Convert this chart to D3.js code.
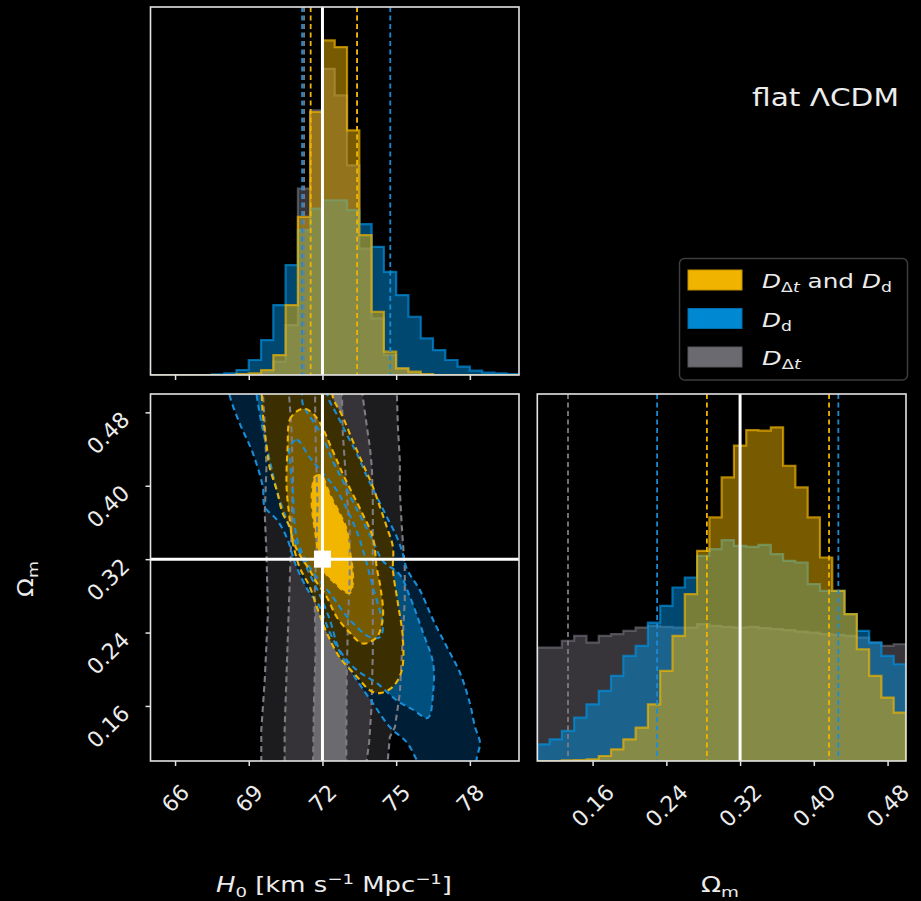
<!DOCTYPE html>
<html>
<head>
<meta charset="utf-8">
<script src="https://cdn.jsdelivr.net/npm/d3@7"></script>
<style>
  body { margin: 0; background: #000; }
  text { font-family: "DejaVu Sans", sans-serif; fill: #ececec; white-space: pre; }
</style>
</head>
<body>
<div id="chart"></div>
<script>
// ---- data ----
// 1D histograms: 30 bins each
const h0Start = 65, h0Step = 0.5;
const omStart = 0.1, omStep = 0.4 / 30;

const h0Joint = [0,0,0,0,0,0,0,0.3,0.5,1.5,6,21,47.5,79,100.5,98.5,73.5,42,19,7,2,1,0.3,0,0,0,0,0,0,0];
const h0Dd = [0,0,0,0,0,0.2,0.5,1.5,4.5,10.5,21,33,43.5,50,52.5,52.5,49.5,45.3,38.5,31,24,17.5,11,7.5,4.5,2.5,1.3,0.7,0.5,0.3];
const h0Ddt = [0,0,0,0,0,0,0,0,0,1,4,15,56,79.5,92,84,63,38,17,6,2,0.5,0,0,0,0,0,0,0,0];

const omJoint = [0,0,0.2,0.3,0.5,1.5,3.5,6.5,10,17,27,37.5,50,63,73,85,94.5,99.2,99,100,88.5,82,73,61,51,44,33.5,25.5,19,14.5];
const omDd = [5,6.5,9,13,17,21,25.5,31.5,34.5,41.5,46.5,52,55,61.5,63.5,66.2,64.5,64.2,64.8,62,60,59.5,53,51,51,44,39,35.5,31.5,29];
const omDdt = [34,34,36,37.5,35.5,37.5,38,39,40,40.5,40.2,40,40,41,40.5,40.2,40,40.2,39.8,39.5,39.2,38.8,38.5,38,37.8,37.5,37,35.5,34.5,35];

// quantile lines
const h0QJoint = [71.52, 73.41], h0QDd = [71.17, 74.76], h0QDdt = [71.25, 73.41];
const omQJoint = [0.284, 0.4165], omQDd = [0.230, 0.4266], omQDdt = [0.1333];

// truth values
const truthH0 = 72, truthOm = 0.32;

// ticks
const h0Ticks = [66, 69, 72, 75, 78];
const omTicks = [0.16, 0.24, 0.32, 0.40, 0.48];

// 2D contours [H0, Om], outer -> inner
const ddtC3 = [[69.5,0.53],[69.58,0.499],[69.65,0.468],[69.72,0.42],[69.65,0.37],[69.72,0.327],[69.78,0.261],[69.65,0.188],[69.51,0.134],[69.51,0.101],[69.45,0.08],[74.6,0.08],[74.66,0.101],[74.74,0.126],[74.95,0.137],[75.15,0.174],[75.35,0.275],[75.35,0.31],[75.23,0.355],[75.15,0.394],[75.15,0.427],[75.07,0.464],[75.03,0.499],[75.0,0.53]];
const ddtC2 = [[70.62,0.53],[70.64,0.499],[70.74,0.461],[70.8,0.406],[70.74,0.352],[70.67,0.297],[70.6,0.243],[70.53,0.188],[70.46,0.134],[70.46,0.101],[70.45,0.08],[73.8,0.08],[73.8,0.101],[73.9,0.12],[74.0,0.16],[74.05,0.22],[74.05,0.275],[74.05,0.33],[74.05,0.384],[74.01,0.42],[73.93,0.442],[73.81,0.464],[73.64,0.497],[73.6,0.53]];
const ddtC1 = [[71.72,0.53],[71.7,0.49],[71.73,0.44],[71.8,0.38],[71.75,0.33],[71.68,0.28],[71.72,0.22],[71.65,0.16],[71.62,0.1],[71.62,0.08],[72.97,0.08],[72.97,0.13],[72.99,0.2],[73.05,0.26],[73.11,0.30],[73.11,0.352],[72.99,0.391],[72.9,0.43],[72.83,0.456],[72.8,0.49],[72.78,0.53]];

const ddC3 = [[68.14,0.52],[68.22,0.499],[68.63,0.468],[69.16,0.436],[69.57,0.399],[69.65,0.377],[70.14,0.363],[70.54,0.344],[70.95,0.311],[71.48,0.283],[71.81,0.272],[72.30,0.240],[72.83,0.213],[73.40,0.188],[74.05,0.163],[74.74,0.137],[75.44,0.120],[75.84,0.101],[76.17,0.085],[78.3,0.085],[78.27,0.101],[78.41,0.120],[78.21,0.137],[78.00,0.163],[77.60,0.196],[77.07,0.224],[76.50,0.254],[75.97,0.286],[75.44,0.309],[75.27,0.326],[75.03,0.344],[74.62,0.366],[74.21,0.388],[73.81,0.410],[73.40,0.435],[72.99,0.456],[72.58,0.478],[72.22,0.497],[72.13,0.52]];
const ddC2 = [[69.24,0.52],[69.32,0.499],[69.57,0.461],[69.85,0.428],[70.14,0.395],[70.54,0.363],[70.95,0.335],[71.40,0.308],[71.89,0.281],[72.30,0.254],[72.70,0.221],[73.40,0.199],[74.21,0.185],[75.03,0.166],[75.68,0.156],[76.29,0.147],[76.50,0.174],[76.50,0.207],[76.09,0.240],[75.56,0.279],[75.15,0.303],[74.46,0.318],[74.05,0.340],[73.64,0.362],[73.23,0.383],[72.83,0.405],[72.42,0.427],[72.01,0.453],[71.60,0.471],[71.20,0.489],[71.07,0.52]];
const ddC1 = [[70.67,0.442],[70.95,0.450],[71.48,0.431],[72.01,0.414],[72.58,0.395],[73.11,0.368],[73.52,0.341],[74.05,0.290],[74.46,0.246],[74.34,0.235],[73.93,0.235],[73.11,0.254],[72.30,0.283],[71.48,0.311],[70.95,0.344],[70.79,0.395],[70.67,0.428]];

const jointC3 = [[69.48,0.52],[69.53,0.499],[69.57,0.479],[69.73,0.442],[69.85,0.420],[70.14,0.395],[70.38,0.370],[70.67,0.355],[70.79,0.338],[71.07,0.311],[71.48,0.290],[71.77,0.268],[72.17,0.240],[72.70,0.213],[73.40,0.192],[73.93,0.177],[74.34,0.174],[74.87,0.181],[75.23,0.199],[75.27,0.235],[75.07,0.272],[74.87,0.308],[74.87,0.333],[74.62,0.355],[74.34,0.377],[74.05,0.399],[73.64,0.424],[73.23,0.449],[72.83,0.475],[72.42,0.497],[72.38,0.52]];
const jointC2 = [[70.58,0.442],[70.67,0.472],[70.95,0.481],[71.28,0.484],[71.60,0.479],[71.89,0.469],[72.42,0.438],[72.83,0.413],[73.23,0.391],[73.64,0.369],[74.05,0.344],[74.21,0.311],[74.38,0.286],[74.46,0.257],[74.21,0.235],[73.64,0.228],[73.11,0.240],[72.58,0.257],[72.17,0.279],[71.73,0.296],[71.48,0.308],[71.07,0.325],[70.79,0.341],[70.67,0.363],[70.54,0.399]];
const jointC1 = [[71.60,0.401],[71.69,0.410],[71.97,0.411],[72.17,0.399],[72.42,0.384],[72.70,0.370],[72.99,0.352],[73.11,0.330],[73.23,0.308],[73.23,0.292],[73.11,0.283],[72.83,0.286],[72.50,0.294],[72.17,0.303],[71.97,0.314],[71.81,0.330],[71.69,0.352],[71.60,0.368],[71.56,0.384]];

// series table (drawn in this order)
const series = [
  { h0: h0Ddt, om: omDdt, qh: h0QDdt, qo: omQDdt, cont: [ddtC3, ddtC2, ddtC1],
    color: "#6e6a74", line: "#7d7c82", fills: ["#1c1b1d", "#363338", "#6b6a6e"], smooth: false },
  { h0: h0Dd, om: omDd, qh: h0QDd, qo: omQDd, cont: [ddC3, ddC2, ddC1],
    color: "#0090e0", line: "#1a8cd6", fills: ["#001f36", "#004f7d", "#0a6fa8"], smooth: true },
  { h0: h0Joint, om: omJoint, qh: h0QJoint, qo: omQJoint, cont: [jointC3, jointC2, jointC1],
    color: "#f0b400", line: "#f0b400", fills: ["#3b2e00", "#785b00", "#f2b600"], smooth: true }
];

// ---- layout ----
const W = 921, H = 901;
const pL = 150.5, pR = 519, t1 = 7, b1 = 375, t2 = 394, b2 = 761, rL = 537.3, rR = 906;

const svg = d3.select("#chart").append("svg").attr("width", W).attr("height", H);
svg.append("rect").attr("width", W).attr("height", H).attr("fill", "#000");

const xH0 = d3.scaleLinear().domain([65, 80]).range([pL, pR]);
const yOm = d3.scaleLinear().domain([0.1, 0.5]).range([b2, t2]);
const xOm = d3.scaleLinear().domain([0.1, 0.5]).range([rL, rR]);
const topMax = d3.max(series, s => d3.max(s.h0));
const rightMax = d3.max(series, s => d3.max(s.om));
const yTop = d3.scaleLinear().domain([0, 1.1 * topMax]).range([b1, t1]);
const yRight = d3.scaleLinear().domain([0, 1.1 * rightMax]).range([b2, t2]);

const defs = svg.append("defs");
function clip(id, x, y, w, h) {
  defs.append("clipPath").attr("id", id).append("rect")
    .attr("x", x).attr("y", y).attr("width", w).attr("height", h);
}
clip("c-top", pL, t1, pR - pL, b1 - t1);
clip("c-2d", pL, t2, pR - pL, b2 - t2);
clip("c-right", rL, t2, rR - rL, b2 - t2);

// step outline points for a histogram
function stepPoints(counts, start, step) {
  const pts = [[start, 0]];
  counts.forEach((c, i) => {
    pts.push([start + i * step, c]);
    pts.push([start + (i + 1) * step, c]);
  });
  pts.push([start + counts.length * step, 0]);
  return pts;
}

function drawHist(g, key, start, step, xs, ys, qKey, yTopPx, yBotPx) {
  const line = d3.line().x(d => xs(d[0])).y(d => ys(d[1]));
  series.forEach(s => {
    const pts = stepPoints(s[key], start, step);
    g.append("path").attr("d", line(pts) + "Z")
      .attr("fill", s.color).attr("fill-opacity", 0.5);
    g.append("path").attr("d", line(pts))
      .attr("fill", "none").attr("stroke", s.color)
      .attr("stroke-opacity", 0.7).attr("stroke-width", 2.2);
  });
  series.forEach(s => {
    g.selectAll(null).data(s[qKey]).enter().append("line")
      .attr("x1", d => xs(d)).attr("x2", d => xs(d))
      .attr("y1", yTopPx).attr("y2", yBotPx)
      .attr("stroke", s.line).attr("stroke-width", 1.8)
      .attr("stroke-dasharray", "5,3.5");
  });
}

// top panel: H0 marginal
const gTop = svg.append("g").attr("clip-path", "url(#c-top)");
drawHist(gTop, "h0", h0Start, h0Step, xH0, yTop, "qh", t1, b1);
gTop.append("line").attr("x1", xH0(truthH0)).attr("x2", xH0(truthH0))
  .attr("y1", t1).attr("y2", b1).attr("stroke", "#fff").attr("stroke-width", 3);

// right panel: Om marginal
const gRight = svg.append("g").attr("clip-path", "url(#c-right)");
drawHist(gRight, "om", omStart, omStep, xOm, yRight, "qo", t2, b2);
gRight.append("line").attr("x1", xOm(truthOm)).attr("x2", xOm(truthOm))
  .attr("y1", t2).attr("y2", b2).attr("stroke", "#fff").attr("stroke-width", 3);

// 2D panel: contours
const g2d = svg.append("g").attr("clip-path", "url(#c-2d)");
const lineLin = d3.line().x(d => xH0(d[0])).y(d => yOm(d[1])).curve(d3.curveLinearClosed);
const lineSm = d3.line().x(d => xH0(d[0])).y(d => yOm(d[1])).curve(d3.curveCatmullRomClosed.alpha(0.5));
series.forEach(s => {
  s.cont.forEach((c, i) => {
    g2d.append("path").attr("d", (s.smooth ? lineSm : lineLin)(c)).attr("fill", s.fills[i]);
  });
});
series.forEach(s => {
  s.cont.forEach(c => {
    g2d.append("path").attr("d", (s.smooth ? lineSm : lineLin)(c))
      .attr("fill", "none").attr("stroke", s.line)
      .attr("stroke-width", 2.1).attr("stroke-dasharray", "6,4");
  });
});
g2d.append("line").attr("x1", xH0(truthH0)).attr("x2", xH0(truthH0))
  .attr("y1", t2).attr("y2", b2).attr("stroke", "#fff").attr("stroke-width", 3);
g2d.append("line").attr("x1", pL).attr("x2", pR)
  .attr("y1", yOm(truthOm)).attr("y2", yOm(truthOm)).attr("stroke", "#fff").attr("stroke-width", 3);
g2d.append("rect").attr("x", xH0(truthH0) - 8.5).attr("y", yOm(truthOm) - 8.5)
  .attr("width", 17).attr("height", 17).attr("fill", "#fff");

// spines
[[pL, t1, pR, b1], [pL, t2, pR, b2], [rL, t2, rR, b2]].forEach(([x0, y0, x1, y1]) => {
  svg.append("rect").attr("x", x0).attr("y", y0).attr("width", x1 - x0).attr("height", y1 - y0)
    .attr("fill", "none").attr("stroke", "#e4e4e4").attr("stroke-width", 1.6);
});

// axes
const tickFs = 22;
function styleAxis(g) {
  g.attr("color", "#e4e4e4").attr("font-size", null).attr("font-family", null);
  g.select(".domain").remove();
  g.selectAll(".tick line").attr("stroke-width", 1.5);
}
function rotateXLabels(g, gap) {
  g.selectAll(".tick text")
    .attr("y", 0).attr("dy", null).attr("font-size", tickFs)
    .attr("text-anchor", "middle").attr("dominant-baseline", "central")
    .attr("transform", function () {
      const w = this.getComputedTextLength();
      const c = gap + (w + tickFs * 0.73) / 2.83;
      return `translate(0,${c}) rotate(-45)`;
    });
}

svg.append("g").attr("transform", `translate(0,${b1})`)
  .call(d3.axisBottom(xH0).tickValues(h0Ticks).tickSize(5).tickFormat(""))
  .call(styleAxis);

svg.append("g").attr("transform", `translate(0,${b2})`)
  .call(d3.axisBottom(xH0).tickValues(h0Ticks).tickSize(5).tickFormat(d3.format(".0f")))
  .call(styleAxis).call(g => rotateXLabels(g, 22));

svg.append("g").attr("transform", `translate(0,${b2})`)
  .call(d3.axisBottom(xOm).tickValues(omTicks).tickSize(5).tickFormat(d3.format(".2f")))
  .call(styleAxis).call(g => rotateXLabels(g, 22));

svg.append("g").attr("transform", `translate(${pL},0)`)
  .call(d3.axisLeft(yOm).tickValues(omTicks).tickSize(5).tickFormat(d3.format(".2f")))
  .call(styleAxis)
  .call(g => g.selectAll(".tick text")
    .attr("x", 0).attr("dy", null).attr("font-size", tickFs)
    .attr("text-anchor", "end").attr("dominant-baseline", "central")
    .attr("transform", "translate(-25,3) rotate(-45)"));

// text with sub/superscripts
function mathText(g, parts, fs) {
  const t = g.append("text").attr("font-size", fs);
  let cur = 0;
  parts.forEach(p => {
    const off = p.sub ? 0.22 * fs : p.sup ? -0.4 * fs : 0;
    t.append("tspan")
      .attr("dy", off - cur)
      .attr("font-size", p.sub || p.sup ? fs * 0.7 : fs)
      .attr("font-style", p.it ? "italic" : "normal")
      .text(p.t);
    cur = off;
  });
  return t;
}
// place text so its box spans a target width
function place(g, t, x, y, width, anchor) {
  const bb = t.node().getBBox();
  const sx = width / bb.width;
  const x0 = anchor === "middle" ? x - width / 2 : x;
  g.attr("transform", `translate(${x0 - bb.x * sx},${y}) scale(${sx},1)`);
}

// axis labels
const gXl = svg.append("g");
place(gXl, mathText(gXl, [{ t: "H", it: true }, { t: "0", sub: true }, { t: " [km s" },
  { t: "−1", sup: true }, { t: " Mpc" }, { t: "−1", sup: true }, { t: "]" }], 21), 334, 892, 236, "middle");

const gOl = svg.append("g");
place(gOl, mathText(gOl, [{ t: "Ω" }, { t: "m", sub: true }], 21), 720, 892, 38, "middle");

const gYlOuter = svg.append("g").attr("transform", "translate(33,579) rotate(-90)");
const gYl = gYlOuter.append("g");
place(gYl, mathText(gYl, [{ t: "Ω" }, { t: "m", sub: true }], 21), 0, 0, 36, "middle");

// model label
const gTitle = svg.append("g");
place(gTitle, mathText(gTitle, [{ t: "flat ΛCDM" }], 25), 752, 106, 147, "start");

// legend
svg.append("rect").attr("x", 679.5).attr("y", 258.5).attr("width", 228).attr("height", 121.5)
  .attr("rx", 5).attr("fill", "#000").attr("stroke", "#3c3c3c").attr("stroke-width", 1.5);
const legendRows = [
  { color: "#f0b400", parts: [{ t: "D", it: true }, { t: "Δ", sub: true }, { t: "t", sub: true, it: true },
    { t: " and " }, { t: "D", it: true }, { t: "d", sub: true }], w: 130 },
  { color: "#0088d2", parts: [{ t: "D", it: true }, { t: "d", sub: true }], w: 30 },
  { color: "#6b6a70", parts: [{ t: "D", it: true }, { t: "Δ", sub: true }, { t: "t", sub: true, it: true }], w: 40 }
];
legendRows.forEach((r, i) => {
  const cy = 280 + i * 38.5;
  svg.append("rect").attr("x", 688).attr("y", cy - 10).attr("width", 54).attr("height", 20)
    .attr("fill", r.color).attr("stroke", d3.color(r.color).darker(0.6)).attr("stroke-width", 1);
  const g = svg.append("g");
  place(g, mathText(g, r.parts, 19), 762, cy + 8, r.w, "start");
});
</script>
</body>
</html>
